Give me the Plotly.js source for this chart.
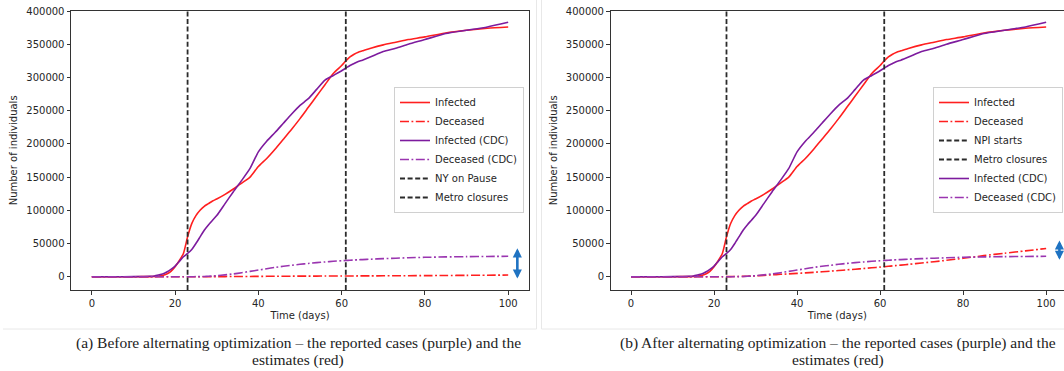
<!DOCTYPE html>
<html>
<head>
<meta charset="utf-8">
<script src="https://cdn.plot.ly/plotly-3.0.1.min.js"></script>
<style>
html,body{margin:0;padding:0;background:#fff;}
#chart{width:1064px;height:371px;}
</style>
</head>
<body>
<div id="chart"></div>
<script>
// ---- data ----
var days = [0,5,10,14,15,16,17,18,19,20,21,22,23,24,25,26,27,28,29,30,32,34,36,38,40,42,44,46,48,50,52,54,56,58,60,61,62,63,64,65,67,70,73,76,80,85,90,95,100];

var infectedEst = [0,0,0,200,400,800,1800,4000,8000,15000,24000,35000,60000,80000,92000,100000,106000,110000,114000,117000,124000,132000,141000,150000,166000,178000,192000,207000,222000,238000,255000,272000,289000,306000,318000,325000,331000,335000,338000,340000,344000,349000,353000,357000,361000,367000,371000,374000,376000];

var infectedCDC = [0,0,100,700,1200,2500,4000,7000,11000,16000,23000,30000,35000,41000,50000,60000,70000,78000,85000,92000,110000,128000,145000,163000,188000,204000,217000,231000,245000,258000,268000,282000,296000,303000,310000,314000,318000,321000,324000,326000,331000,339000,344000,350000,357000,366000,371000,376000,383000];

var deceasedCDC = [0,0,0,0,0,0,0,0,0,0,0,0,0,0,100,200,400,700,1000,1500,2800,4200,6000,8000,10000,12000,14000,15700,17200,18700,20000,21200,22200,23200,24000,24400,24800,25200,25500,25800,26400,27200,27900,28500,29200,29800,30200,30500,30700];

var deceasedBefore = [0,0,0,0,0,0,0,0,0,0,0,0,0,0,0,0,0,0,100,150,200,250,300,400,500,600,700,750,800,850,900,950,1000,1050,1100,1120,1150,1180,1200,1220,1280,1350,1430,1520,1650,1850,2050,2250,2500];

var deceasedAfter = [0,0,0,0,0,0,0,0,0,0,0,0,100,200,300,400,550,750,1000,1300,2000,2800,3600,4300,5000,5800,6600,7500,8400,9300,10300,11300,12300,13400,14500,15100,15700,16300,16900,17500,18700,20600,22600,24700,27700,31700,35400,38900,42500];

var eventDays = [23, 61];
var eventNamesA = ['NY on Pause', 'Metro closures'];
var eventNamesB = ['NPI starts', 'Metro closures'];

var captionA = ['(a) Before alternating optimization – the reported cases (purple) and the', 'estimates (red)'];
var captionB = ['(b) After alternating optimization – the reported cases (purple) and the', 'estimates (red)'];

var xTicks = [0,20,40,60,80,100];
var yTicks = [0,50000,100000,150000,200000,250000,300000,350000,400000];

// ---- styles ----
var RED = '#ff1f1f';
var PURPLE = '#7d1b9e';
var PURPLE_D = '#9a35b0';
var DASHDOT = '9px,2.5px,1.8px,2.5px';
var LW = 1.6;

function tr(y, name, color, dash, xa, ya, leg, rank){
  return {x: days, y: y, name: name, type: 'scatter', mode: 'lines',
    line: {color: color, width: LW, dash: dash, shape: 'spline', smoothing: 0.6},
    xaxis: xa, yaxis: ya, legend: leg, legendrank: rank, hoverinfo: 'skip'};
}

var data = [
  tr(infectedEst, 'Infected', RED, 'solid', 'x', 'y', 'legend', 1),
  tr(deceasedBefore, 'Deceased', RED, DASHDOT, 'x', 'y', 'legend', 2),
  tr(infectedCDC, 'Infected (CDC)', PURPLE, 'solid', 'x', 'y', 'legend', 3),
  tr(deceasedCDC, 'Deceased (CDC)', PURPLE_D, DASHDOT, 'x', 'y', 'legend', 4),
  tr(infectedEst, 'Infected', RED, 'solid', 'x2', 'y2', 'legend2', 1),
  tr(deceasedAfter, 'Deceased', RED, DASHDOT, 'x2', 'y2', 'legend2', 2),
  tr(infectedCDC, 'Infected (CDC)', PURPLE, 'solid', 'x2', 'y2', 'legend2', 5),
  tr(deceasedCDC, 'Deceased (CDC)', PURPLE_D, DASHDOT, 'x2', 'y2', 'legend2', 6)
];

var W = 1064, H = 371;
function px(x){ return x / W; }
function py(y){ return 1 - y / H; }

var shapes = [];
eventDays.forEach(function(d, i){
  shapes.push({type: 'line', xref: 'x', yref: 'y domain', x0: d, x1: d, y0: 0, y1: 1,
    line: {color: '#2b2b2b', width: 1.8, dash: '5px,2.6px'},
    showlegend: true, name: eventNamesA[i], legend: 'legend', legendrank: 5 + i});
  shapes.push({type: 'line', xref: 'x2', yref: 'y2 domain', x0: d, x1: d, y0: 0, y1: 1,
    line: {color: '#2b2b2b', width: 1.8, dash: '5px,2.6px'},
    showlegend: true, name: eventNamesB[i], legend: 'legend2', legendrank: 3 + i});
});
// panel frames
var FRAME = '#e8e8e8';
shapes.push({type: 'line', xref: 'paper', yref: 'paper', x0: px(536.5), x1: px(536.5), y0: py(0), y1: py(329), line: {color: FRAME, width: 1}});
shapes.push({type: 'line', xref: 'paper', yref: 'paper', x0: px(3), x1: px(536.5), y0: py(329), y1: py(329), line: {color: FRAME, width: 1}});
shapes.push({type: 'line', xref: 'paper', yref: 'paper', x0: px(541.5), x1: px(541.5), y0: py(0), y1: py(329), line: {color: FRAME, width: 1}});
shapes.push({type: 'line', xref: 'paper', yref: 'paper', x0: px(541.5), x1: 1, y0: py(329), y1: py(329), line: {color: FRAME, width: 1}});

var font = {family: 'DejaVu Sans, sans-serif', size: 10, color: '#262626'};

function xaxis(domain, range, mirror){
  return {domain: domain, range: range, tickvals: xTicks, ticks: 'outside', ticklen: 3.5, tickwidth: 1,
    tickcolor: '#333', showline: true, linecolor: '#333', linewidth: 1, mirror: mirror,
    showgrid: false, zeroline: false, tickfont: font,
    title: {text: 'Time (days)', font: font, standoff: 4}};
}
function yaxis(domain, anchor, mirror){
  return {domain: domain, anchor: anchor, range: [-20000, 400450], tickvals: yTicks, tickformat: 'd',
    ticks: 'outside', ticklen: 3.5,
    tickwidth: 1, tickcolor: '#333', showline: true, linecolor: '#333', linewidth: 1, mirror: mirror,
    showgrid: false, zeroline: false, tickfont: font,
    title: {text: 'Number of individuals', font: font, standoff: 6}};
}

var yDom = [py(290), py(10.7)];

var capFont = {family: 'Liberation Serif, serif', size: 15.5, color: '#222'};
function caps(lines, cx){
  return lines.map(function(t, i){
    return {xref: 'paper', yref: 'paper', x: px(cx), y: py(343 + 17 * i), xanchor: 'center', yanchor: 'middle',
      text: t, showarrow: false, font: capFont};
  });
}

function arrow(xa, ya, xpos, a, b){
  var top = Math.max(a, b) + 12000, bot = Math.min(a, b) - 7500;
  return {xref: xa, yref: ya, axref: xa, ayref: ya, x: xpos, y: top, ax: xpos, ay: bot,
    text: '', showarrow: true, arrowside: 'end+start', arrowhead: 2, arrowsize: 0.7,
    arrowwidth: 2.6, arrowcolor: '#1f73c2', standoff: 0, startstandoff: 0};
}

var last = days.length - 1;
var annotations = caps(captionA, 298).concat(caps(captionB, 838));
annotations.push(arrow('x', 'y', 102.2, deceasedCDC[last], deceasedBefore[last]));
annotations.push(arrow('x2', 'y2', 103.2, deceasedCDC[last], deceasedAfter[last]));

var legStyle = {bgcolor: 'rgba(255,255,255,0.85)', bordercolor: '#d0d0d0', borderwidth: 1,
  font: {family: 'DejaVu Sans, sans-serif', size: 10, color: '#262626'},
  xanchor: 'right', yanchor: 'middle', tracegroupgap: 0, traceorder: 'normal'};

var layout = {
  width: W, height: H,
  margin: {l: 0, r: 0, t: 0, b: 0},
  paper_bgcolor: '#fff', plot_bgcolor: '#fff',
  showlegend: true,
  xaxis: xaxis([px(71), px(529)], [-5, 105], true),
  yaxis: yaxis(yDom, 'x', true),
  xaxis2: xaxis([px(610.5), 1], [-4.94, 104.3], true),
  yaxis2: yaxis(yDom, 'x2', false),
  legend: Object.assign({}, legStyle, {x: px(524), y: py(150)}),
  legend2: Object.assign({}, legStyle, {x: px(1063), y: py(150)}),
  shapes: shapes,
  annotations: annotations
};
layout.xaxis2.anchor = 'y2';
layout.xaxis.anchor = 'y';

Plotly.newPlot('chart', data, layout, {displayModeBar: false, staticPlot: true});
</script>
</body>
</html>
